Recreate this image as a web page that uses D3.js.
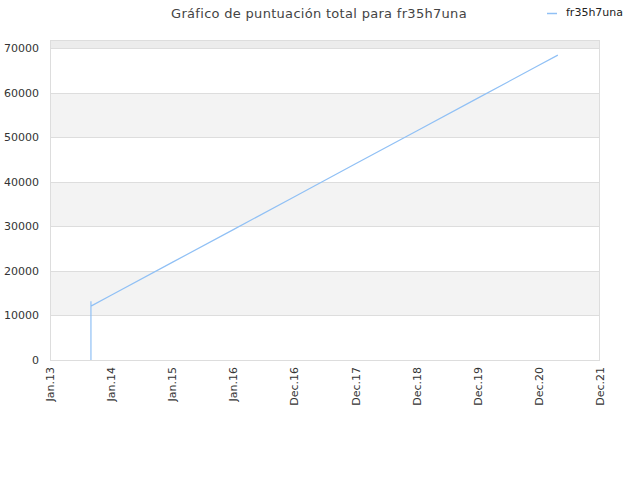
<!DOCTYPE html>
<html><head><meta charset="utf-8">
<script src="https://cdn.jsdelivr.net/npm/d3@7"></script>
<style>body{margin:0;background:#fff}svg{display:block;font-family:"DejaVu Sans",sans-serif}</style>
</head><body>
<svg id="c" width="640" height="480"></svg>
<script>
const tickYears = [2013,2014,2015,2016,2017,2018,2019,2020,2021,2022];
const tickLabels = ["Jan.13","Jan.14","Jan.15","Jan.16","Dec.16","Dec.17","Dec.18","Dec.19","Dec.20","Dec.21"];
const dates = [2013.67,2013.67,2013.67,2014,2015,2016,2017,2018,2019,2020,2021,2021.31];
const scores = [0,13200,12100,14550,21930,29300,36700,44080,51460,58840,66220,68500];
const yTicks = [0,10000,20000,30000,40000,50000,60000,70000];
const seriesName = "fr35h7una";

const svg = d3.select("#c");
const L=50,R=600,T=40,B=360;
const x = d3.scaleLinear().domain([2013,2022]).range([L,R]);
const y = d3.scaleLinear().domain([0,71900]).range([B,T]);

// bands
const bandEdges = yTicks.concat([71900]);
for(let i=0;i<bandEdges.length-1;i++){
  svg.append("rect").attr("x",L).attr("width",R-L)
    .attr("y",y(bandEdges[i+1])).attr("height",y(bandEdges[i])-y(bandEdges[i+1]))
    .attr("fill", i%2===0 ? "#ffffff" : (i===bandEdges.length-2 ? "#ececec" : "#f3f3f3"));
}
// grid
svg.append("g").selectAll("line").data(yTicks.slice(1)).join("line")
  .attr("x1",L).attr("x2",R).attr("y1",d=>Math.round(y(d))+0.5).attr("y2",d=>Math.round(y(d))+0.5)
  .attr("stroke","#dddddd");
// border
svg.append("rect").attr("x",L+0.5).attr("y",T+0.5).attr("width",R-L-1).attr("height",B-T)
  .attr("fill","none").attr("stroke","#dddddd");

// y labels
svg.append("g").selectAll("text").data(yTicks).join("text")
  .attr("x",L-11).attr("y",d=>y(d)+4).attr("text-anchor","end")
  .attr("font-size",11).attr("fill","#333").text(d=>d);
// x labels
svg.append("g").selectAll("text").data(tickYears).join("text")
  .attr("transform",(d)=>`translate(${x(d)+4},${B+7}) rotate(-90)`)
  .attr("text-anchor","end").attr("font-size",11).attr("fill","#333")
  .text((d,i)=>tickLabels[i]);

// line
const pts = dates.map((d,i)=>[d,scores[i]]);
svg.append("path").datum(pts)
  .attr("d",d3.line().x(d=>x(d[0])).y(d=>y(d[1])))
  .attr("fill","none").attr("stroke","#90c0f5").attr("stroke-width",1.2);

// title
svg.append("text").attr("x",319).attr("y",18).attr("text-anchor","middle")
  .attr("font-size",13).attr("fill","#444").attr("letter-spacing",0.3)
  .text("Gráfico de puntuación total para " + seriesName);
// legend
svg.append("line").attr("x1",547).attr("x2",557).attr("y1",13.5).attr("y2",13.5)
  .attr("stroke","#90c0f5").attr("stroke-width",1.5);
svg.append("text").attr("x",566).attr("y",16).attr("font-size",11).attr("fill","#222").text(seriesName);
</script>
</body></html>
